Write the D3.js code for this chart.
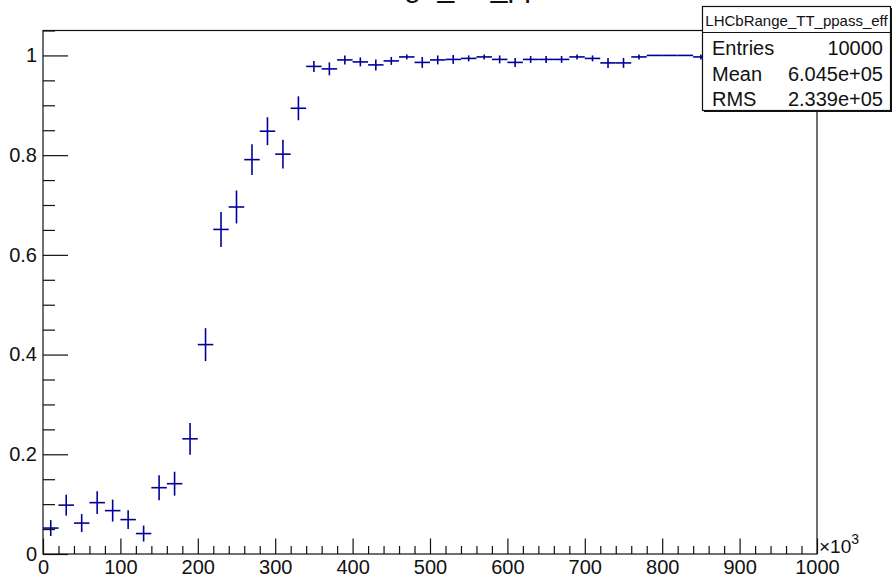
<!DOCTYPE html>
<html lang="en">
<head>
<meta charset="utf-8">
<title>LHCbRange_TT_ppass_eff</title>
<script src="https://d3js.org/d3.v7.min.js"></script>
<style>
  body { margin: 0; background: #fff; }
  svg { display: block; font-family: "Liberation Sans", Arial, Helvetica, sans-serif; }
</style>
</head>
<body>
<svg id="chart" width="892" height="578"></svg>
<script>
// bin centres (x10^3), efficiency and its error per bin
var binCenters = [10, 30, 50, 70, 90, 110, 130, 150, 170, 190,
                  210, 230, 250, 270, 290, 310, 330, 350, 370, 390,
                  410, 430, 450, 470, 490, 510, 530, 550, 570, 590,
                  610, 630, 650, 670, 690, 710, 730, 750, 770, 790,
                  810, 830, 850, 870, 890, 910, 930, 950, 970, 990];
var binWidth = 20;
var effValues = [0.052, 0.098, 0.062, 0.103, 0.087, 0.069, 0.041, 0.133, 0.141, 0.231,
                 0.420, 0.651, 0.696, 0.791, 0.848, 0.802, 0.894, 0.978, 0.973, 0.991,
                 0.987, 0.981, 0.989, 0.997, 0.986, 0.991, 0.992, 0.994, 0.997, 0.992,
                 0.986, 0.992, 0.992, 0.992, 0.997, 0.994, 0.985, 0.985, 0.997, 1,
                 1, 1, 0.997, 1, 1, 1, 1, 1, 1, 1];
var effErrors = [0.016, 0.021, 0.018, 0.023, 0.022, 0.019, 0.016, 0.025, 0.024, 0.032,
                 0.033, 0.035, 0.033, 0.031, 0.028, 0.029, 0.024, 0.011, 0.013, 0.009,
                 0.009, 0.011, 0.008, 0.005, 0.011, 0.009, 0.009, 0.006, 0.005, 0.008,
                 0.009, 0.007, 0.007, 0.007, 0.005, 0.006, 0.010, 0.010, 0.005, 0,
                 0, 0, 0.005, 0, 0, 0, 0, 0, 0, 0];

var xMajorTicks = [0, 100, 200, 300, 400, 500, 600, 700, 800, 900, 1000];
var yMajorTicks = [0, 0.2, 0.4, 0.6, 0.8, 1];
var yTickLabels = ["0", "0.2", "0.4", "0.6", "0.8", "1"];

var histTitle = "LHCbRange_TT_ppass";
var statsName = "LHCbRange_TT_ppass_eff";
var statsLabels = ["Entries", "Mean", "RMS"];
var statsValues = ["10000", "6.045e+05", "2.339e+05"];

var svg = d3.select("#chart");
var frame = {left: 43, right: 817, top: 30.5, bottom: 554};
var blue = "#000099";

var x = d3.scaleLinear().domain([0, 1000]).range([frame.left, frame.right]);
var y = d3.scaleLinear().domain([0, 1.05]).range([frame.bottom, frame.top]);

// minor ticks
var xMinor = [], yMinor = [];
for (var i = 0; i <= 1000; i += 20) if (i % 100) xMinor.push(i);
for (var j = 1; j <= 21; j++) if (j % 4) yMinor.push(j * 0.05);

// data: error crosses
var g = svg.append("g").attr("stroke", blue).attr("stroke-width", 1.6).attr("fill", "none");
binCenters.forEach(function (c, k) {
  var v = effValues[k], e = effErrors[k];
  g.append("line")
    .attr("x1", x(c - binWidth / 2)).attr("x2", x(c + binWidth / 2))
    .attr("y1", y(v)).attr("y2", y(v));
  if (e > 0) {
    g.append("line")
      .attr("x1", x(c)).attr("x2", x(c))
      .attr("y1", y(v - e)).attr("y2", y(Math.min(v + e, 1.05)));
  }
});

// axes (ticks pointing inwards, ROOT style)
var xAxis = svg.append("g").attr("transform", "translate(0," + frame.bottom + ")")
  .call(d3.axisBottom(x).tickValues(xMajorTicks).tickSize(-15.5).tickSizeOuter(0).tickPadding(6)
        .tickFormat(function (d) { return String(d); }));
svg.append("g").attr("transform", "translate(0," + frame.bottom + ")")
  .call(d3.axisBottom(x).tickValues(xMinor).tickSize(-8).tickSizeOuter(0).tickFormat(""));

var yAxis = svg.append("g").attr("transform", "translate(" + frame.left + ",0)")
  .call(d3.axisLeft(y).tickValues(yMajorTicks).tickSize(-25).tickSizeOuter(0).tickPadding(6)
        .tickFormat(function (d, k) { return yTickLabels[k]; }));
svg.append("g").attr("transform", "translate(" + frame.left + ",0)")
  .call(d3.axisLeft(y).tickValues(yMinor).tickSize(-12).tickSizeOuter(0).tickFormat(""));

svg.selectAll(".domain").remove();
svg.selectAll(".tick line").attr("stroke", "#111").attr("stroke-width", 1.2);
svg.selectAll(".tick text").attr("font-size", 20).attr("fill", "#111")
  .attr("font-family", "Liberation Sans, Arial, sans-serif");

// frame
svg.append("rect")
  .attr("x", frame.left).attr("y", frame.top)
  .attr("width", frame.right - frame.left).attr("height", frame.bottom - frame.top)
  .attr("fill", "none").attr("stroke", "#111").attr("stroke-width", 1.2);

// x10^3 multiplier
var mult = svg.append("text").attr("x", frame.right + 2).attr("y", frame.bottom - 1)
  .attr("font-size", 19).attr("fill", "#111");
mult.append("tspan").text("\u00d710");
mult.append("tspan").attr("dy", -9).attr("font-size", 14).text("3");

// title (mostly above the canvas)
svg.append("text").attr("x", (frame.left + frame.right) / 2).attr("y", -3)
  .attr("text-anchor", "middle").attr("font-size", 30).attr("fill", "#111")
  .text(histTitle);

// stats box
var box = {x: 702.5, y: 6.5, w: 188, h: 104};
svg.append("rect").attr("x", box.x + 1.5).attr("y", box.y + 1.5).attr("width", box.w).attr("height", box.h)
  .attr("fill", "#111");
svg.append("rect").attr("x", box.x).attr("y", box.y).attr("width", box.w).attr("height", box.h)
  .attr("fill", "#fff").attr("stroke", "#111").attr("stroke-width", 1.2);
svg.append("line").attr("x1", box.x).attr("x2", box.x + box.w).attr("y1", 32.5).attr("y2", 32.5)
  .attr("stroke", "#111").attr("stroke-width", 1.2);
svg.append("text").attr("x", box.x + box.w / 2).attr("y", 25.5).attr("text-anchor", "middle")
  .attr("font-size", 15).attr("fill", "#111").text(statsName);

var rowY = [55, 81, 106];
statsLabels.forEach(function (lab, k) {
  svg.append("text").attr("x", 712).attr("y", rowY[k]).attr("font-size", 20).attr("fill", "#111").text(lab);
  svg.append("text").attr("x", 883).attr("y", rowY[k]).attr("text-anchor", "end")
    .attr("font-size", 20).attr("fill", "#111").text(statsValues[k]);
});
</script>
</body>
</html>
